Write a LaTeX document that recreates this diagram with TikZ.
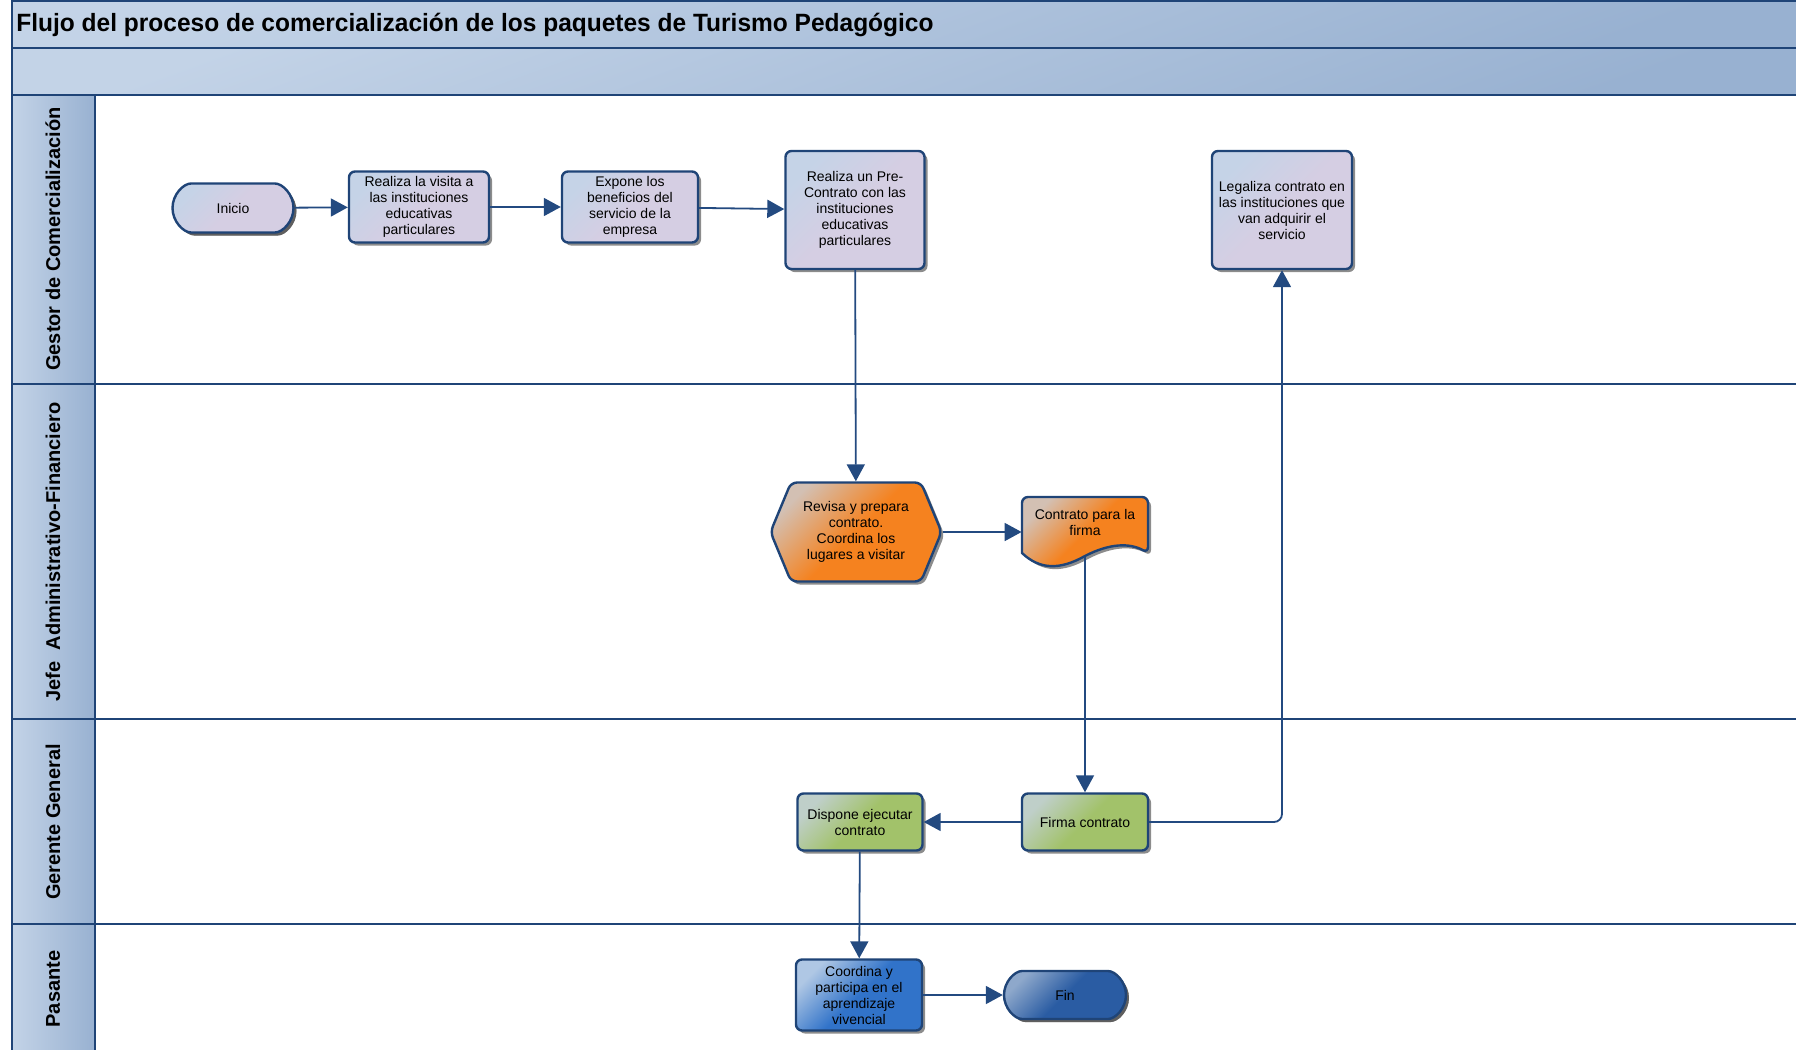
\documentclass[tikz,border=0pt]{standalone}
\usepackage{fontspec}
\setmainfont{Liberation Sans}
\usepackage{tikz}
\usetikzlibrary{arrows.meta,shapes.misc,shapes.symbols,shadows}

\definecolor{frameblue}{HTML}{1F4477}
\definecolor{arrowblue}{HTML}{234A80}
\definecolor{bandlight}{HTML}{C3D3E7}
\definecolor{banddark}{HTML}{98B1D1}
\definecolor{lavlight}{HTML}{C5D3E7}
\definecolor{lavmain}{HTML}{D5CEE3}
\definecolor{orglight}{HTML}{D3C0B3}
\definecolor{orgmain}{HTML}{F5821F}
\definecolor{grnlight}{HTML}{BFCFC9}
\definecolor{grnmain}{HTML}{A2C26A}
\definecolor{bluelight}{HTML}{AFC7E4}
\definecolor{bluemain}{HTML}{3173C9}
\definecolor{finlight}{HTML}{8EA8CB}
\definecolor{finmain}{HTML}{2A5CA3}

\begin{document}
\begin{tikzpicture}[x=0.5pt,y=-0.5pt,
  band/.style={draw=frameblue,line width=1pt,top color=bandlight,bottom color=banddark,shading angle=20},
  colband/.style={draw=frameblue,line width=1pt,left color=bandlight,right color=banddark},
  lane/.style={draw=frameblue,line width=1pt},
  lanelabel/.style={rotate=90,font=\fontsize{10}{12}\selectfont\bfseries},
  shade/.style={drop shadow={shadow xshift=1.5pt,shadow yshift=-1.5pt,fill=black!75,opacity=0.6}},
  box/.style={draw=frameblue,line width=1.2pt,rounded corners=3pt,align=center,
    font=\fontsize{7}{8}\selectfont,inner sep=1pt,shade},
  lav/.style={box,top color=lavlight,bottom color=lavmain,middle color=lavmain,shading angle=45},
  org/.style={top color=orglight,bottom color=orgmain,middle color=orgmain,shading angle=45},
  grn/.style={box,top color=grnlight,bottom color=grnmain,middle color=grnmain,shading angle=45},
  blu/.style={box,top color=bluelight,bottom color=bluemain,middle color=bluemain,shading angle=45},
  term/.style={box,rounded rectangle},
  flow/.style={draw=arrowblue,line width=0.9pt,-{Triangle[length=8.5pt,width=9pt]}}
]
\useasboundingbox (0,0) rectangle (1796,1050);

% bands and lanes
\path[band] (12,1) rectangle (1800,48);
\path[band] (12,48) rectangle (1800,95);
\node[anchor=west,inner sep=0pt] (titulo) at (16,25)
  {\scalebox{0.98}[1]{\fontsize{12.5}{14}\selectfont\bfseries Flujo del proceso de comercialización de los paquetes de Turismo Pedagógico}};

\path[lane] (95,95) rectangle (1800,384);
\path[lane] (95,384) rectangle (1800,719);
\path[lane] (95,719) rectangle (1800,924);
\path[lane] (95,924) rectangle (1800,1060);
\path[colband] (12,95) rectangle (95,384);
\path[colband] (12,384) rectangle (95,719);
\path[colband] (12,719) rectangle (95,924);
\path[colband] (12,924) rectangle (95,1060);

\node[lanelabel] (lgestor) at (53,239) {Gestor de Comercialización};
\node[lanelabel] (ljefe) at (53,552) {Jefe\ \ Administrativo-Financiero};
\node[lanelabel] (lgerente) at (53,822) {Gerente General};
\node[lanelabel] (lpasante) at (53,989) {Pasante};

% document shape
\path[draw=frameblue,line width=1.2pt,org,shade]
  (1022,553) [rounded corners=3pt] -- (1022,497) -- (1148,497) -- (1148,553) [sharp corners]
  .. controls (1130,543) and (1110,543) .. (1085,556)
  .. controls (1060,570) and (1040,570) .. (1022,553) -- cycle;
\node[minimum width=63pt,minimum height=30pt,inner sep=0pt] (doc) at (1085,527) {};
\node[align=center,font=\fontsize{7}{8}\selectfont] (doctext) at (1085,522) {Contrato para la\\firma};

% nodes
\node[term,lav,minimum width=62.5pt,minimum height=24.5pt] (inicio) at (233,208) {Inicio};
\node[lav,minimum width=70pt,minimum height=35.5pt] (visita) at (419,207) {Realiza la visita a\\las instituciones\\educativas\\particulares};
\node[lav,minimum width=68pt,minimum height=35.5pt] (expone) at (630,207) {Expone los\\beneficios del\\servicio de la\\empresa};
\node[lav,minimum width=69.5pt,minimum height=59pt] (precon) at (855,210) {Realiza un Pre-\\Contrato con las\\instituciones\\educativas\\particulares};
\node[lav,minimum width=70pt,minimum height=59pt] (legaliza) at (1282,210) {Legaliza contrato en\\las instituciones que\\van adquirir el\\servicio};
\node[box,org,signal,signal to=west and east,signal pointer angle=135,minimum width=85.5pt,minimum height=49.5pt] (revisa) at (856,532) {Revisa y prepara\\contrato.\\Coordina los\\lugares a visitar};
\node[grn,minimum width=63pt,minimum height=28.5pt] (firma) at (1085,822) {Firma contrato};
\node[grn,minimum width=62.5pt,minimum height=28.5pt] (dispone) at (860,822) {Dispone ejecutar\\contrato};
\node[blu,minimum width=63pt,minimum height=35.5pt] (coord) at (859,995) {Coordina y\\participa en el\\aprendizaje\\vivencial};
\node[term,box,top color=finlight,bottom color=finmain,middle color=finmain,shading angle=45,minimum width=63pt,minimum height=24pt] (fin) at (1065,995) {Fin};

% connectors
\draw[flow] (inicio) -- (visita);
\draw[flow] (visita) -- (expone);
\draw[flow] (expone) -- (precon);
\draw[flow] (precon) -- (revisa);
\draw[flow] (revisa.east) -- (revisa.east -| doc.west);
\draw[flow] (doc.south) -- (firma);
\draw[flow] (firma) -- (dispone);
\draw[flow,rounded corners=4pt] (firma.east) -| (legaliza.south);
\draw[flow] (dispone) -- (coord);
\draw[flow] (coord) -- (fin);
\end{tikzpicture}
\end{document}
